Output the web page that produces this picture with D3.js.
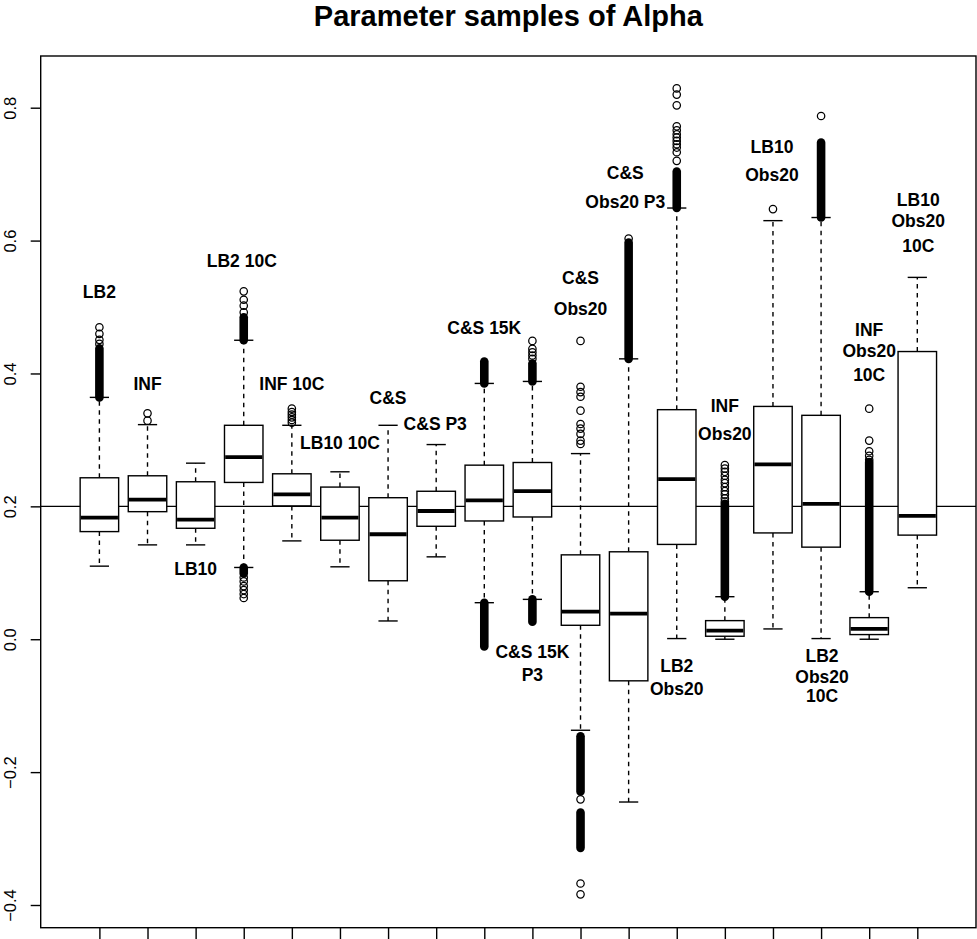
<!DOCTYPE html>
<html>
<head>
<meta charset="utf-8">
<script src="https://cdn.jsdelivr.net/npm/d3@7"></script>
<style>
  body { margin: 0; background: #fff; }
  svg { display: block; font-family: "Liberation Sans", Arial, Helvetica, sans-serif; }
</style>
</head>
<body>
<svg></svg>
<script>
/*data*/
const categories = ["LB2", "INF", "LB10", "LB2 10C", "INF 10C", "LB10 10C", "C&S", "C&S P3",
    "C&S 15K", "C&S 15K P3", "C&S Obs20", "C&S Obs20 P3", "LB2 Obs20", "INF Obs20",
    "LB10 Obs20", "LB2 Obs20 10C", "INF Obs20 10C", "LB10 Obs20 10C"];

const lowerWhisker = [0.110, 0.142, 0.142, 0.108, 0.148, 0.109, 0.0275, 0.124, 0.055, 0.060,
    -0.137, -0.245, 0.001, 0.000, 0.0155, 0.001, 0.000, 0.0775];
const q1 = [0.162, 0.192, 0.167, 0.236, 0.2007, 0.149, 0.088, 0.170, 0.178, 0.184,
    0.021, -0.0626, 0.1427, 0.0045, 0.160, 0.1386, 0.007, 0.1567];
const median = [0.183, 0.210, 0.180, 0.274, 0.218, 0.183, 0.158, 0.193, 0.209, 0.223,
    0.0415, 0.0385, 0.241, 0.013, 0.2633, 0.2037, 0.0155, 0.1857];
const q3 = [0.243, 0.246, 0.237, 0.322, 0.249, 0.229, 0.213, 0.2227, 0.262, 0.266,
    0.127, 0.1316, 0.3455, 0.028, 0.3504, 0.337, 0.0325, 0.433];
const upperWhisker = [0.364, 0.323, 0.265, 0.450, 0.322, 0.252, 0.322, 0.293, 0.385, 0.388,
    0.2794, 0.422, 0.649, 0.064, 0.630, 0.6347, 0.0715, 0.5446];

// single outlier circles
const outliers = [
    [0.4445, 0.4506, 0.4596, 0.4695],
    [0.329, 0.340],
    [],
    [0.492, 0.502, 0.511, 0.5236, 0.093, 0.087, 0.080, 0.074, 0.068, 0.062],
    [0.326, 0.330, 0.334, 0.338, 0.342, 0.347],
    [],
    [],
    [],
    [],
    [0.422, 0.427, 0.432, 0.437, 0.449],
    [0.294, 0.299, 0.309, 0.317, 0.324, 0.344, 0.365, 0.372, 0.380, 0.449, -0.241, -0.3676, -0.384],
    [0.603],
    [0.720, 0.733, 0.740, 0.745, 0.750, 0.755, 0.760, 0.766, 0.772, 0.8035, 0.8197, 0.829],
    [0.207, 0.212, 0.218, 0.223, 0.229, 0.235, 0.240, 0.246, 0.252, 0.257, 0.262],
    [0.6474],
    [0.7875],
    [0.270, 0.276, 0.283, 0.299, 0.347],
    []
];

// ranges where outliers overlap into a solid column [from, to]
const outlierBands = [
    [[0.364, 0.4377]],
    [],
    [],
    [[0.450, 0.4845], [0.099, 0.108]],
    [],
    [],
    [],
    [],
    [[0.385, 0.418], [-0.011, 0.055]],
    [[0.388, 0.415], [0.0265, 0.060]],
    [[-0.229, -0.146], [-0.314, -0.261]],
    [[0.422, 0.597]],
    [[0.649, 0.7038]],
    [[0.064, 0.204]],
    [],
    [[0.6347, 0.7474]],
    [[0.0715, 0.2668]],
    []
];

const yTicks = [-0.4, -0.2, 0.0, 0.2, 0.4, 0.6, 0.8];
const refLine = 0.2;

// text labels inside the plot (x = box number, y = baseline value of each line)
const labelLines = [["LB2"], ["INF"], ["LB10"], ["LB2 10C"], ["INF 10C"], ["LB10 10C"], ["C&S"],
    ["C&S P3"], ["C&S 15K"], ["C&S 15K", "P3"], ["C&S", "Obs20"], ["C&S", "Obs20 P3"],
    ["LB2", "Obs20"], ["INF", "Obs20"], ["LB10", "Obs20"], ["LB2", "Obs20", "10C"],
    ["INF", "Obs20", "10C"], ["LB10", "Obs20", "10C"]];
const labelX = [1, 2, 3, 3.96, 5, 6, 7, 7.98, 9, 10, 11, 11.93, 13, 14, 14.98, 16.02, 17, 18.02];
const labelY = [[0.513], [0.3745], [0.0966], [0.5597], [0.3745], [0.287], [0.3534], [0.3144],
    [0.4596], [-0.0285, -0.0622], [0.5347, 0.488], [0.6924, 0.6497], [-0.0487, -0.0837],
    [0.3418, 0.2993], [0.7324, 0.6899], [-0.0336, -0.066, -0.0952], [0.457, 0.4244, 0.388],
    [0.6523, 0.6207, 0.5822]];

/*basic setup*/
let svgWidth = 977;
let svgHeight = 939;
let plotLeft = 40.7, plotRight = 976, plotTop = 56, plotBottom = 927.7;

const svg = d3.select("svg")
    .attr("width", svgWidth)
    .attr("height", svgHeight);

// R style: boxes at 1..n, range 0.5..n+0.5 widened by 4%
let n = categories.length;
let pad = (n) * 0.04;
const x = d3.scaleLinear()
    .domain([0.5 - pad, n + 0.5 + pad])
    .range([plotLeft, plotRight]);

const y = d3.scaleLinear()
    .domain([-0.4, 0.8])
    .range([905, 107.7]);

let boxHalf = x(0.4) - x(0);
let capHalf = x(0.2) - x(0);
let lw = 1.4;

/* title */
svg.append("text")
    .attr("x", (plotLeft + plotRight) / 2)
    .attr("y", 26)
    .attr("text-anchor", "middle")
    .style("font-size", "29px")
    .style("font-weight", "bold")
    .text("Parameter samples of Alpha");

/* axes */
const yAxis = d3.axisLeft(y)
    .tickValues(yTicks)
    .tickSize(10)
    .tickSizeOuter(0)
    .tickFormat(d3.format(".1f"));

const gy = svg.append("g")
    .attr("transform", "translate(" + plotLeft + ",0)")
    .call(yAxis);
gy.select(".domain").remove();
gy.selectAll("line").attr("stroke-width", lw);
gy.selectAll("text")
    .attr("x", null).attr("dy", null)
    .attr("text-anchor", "middle")
    .attr("transform", "translate(-24.5,0) rotate(-90)")
    .style("font-size", "16.5px")
    .attr("fill", "#000");

const xAxis = d3.axisBottom(x)
    .tickValues(d3.range(1, n + 1))
    .tickSize(12)
    .tickSizeOuter(0)
    .tickFormat("");

const gx = svg.append("g")
    .attr("transform", "translate(0," + plotBottom + ")")
    .call(xAxis);
gx.select(".domain").remove();
gx.selectAll("line").attr("stroke-width", lw);

/* frame */
svg.append("rect")
    .attr("x", plotLeft)
    .attr("y", plotTop)
    .attr("width", plotRight - plotLeft)
    .attr("height", plotBottom - plotTop)
    .attr("fill", "none")
    .attr("stroke", "#000")
    .attr("stroke-width", lw);

/* reference line */
svg.append("line")
    .attr("x1", plotLeft).attr("x2", plotRight)
    .attr("y1", y(refLine)).attr("y2", y(refLine))
    .attr("stroke", "#000")
    .attr("stroke-width", lw);

/* boxes */
let boxes = svg.selectAll("g.box")
    .data(categories)
    .enter()
    .append("g")
    .attr("class", "box");

// whiskers (dashed)
boxes.append("line")
    .attr("x1", (d, i) => x(i + 1)).attr("x2", (d, i) => x(i + 1))
    .attr("y1", (d, i) => y(q3[i])).attr("y2", (d, i) => y(upperWhisker[i]))
    .attr("stroke", "#000").attr("stroke-width", lw)
    .attr("stroke-dasharray", "4.5,4.5");
boxes.append("line")
    .attr("x1", (d, i) => x(i + 1)).attr("x2", (d, i) => x(i + 1))
    .attr("y1", (d, i) => y(q1[i])).attr("y2", (d, i) => y(lowerWhisker[i]))
    .attr("stroke", "#000").attr("stroke-width", lw)
    .attr("stroke-dasharray", "4.5,4.5");

// staples
boxes.append("line")
    .attr("x1", (d, i) => x(i + 1) - capHalf).attr("x2", (d, i) => x(i + 1) + capHalf)
    .attr("y1", (d, i) => y(upperWhisker[i])).attr("y2", (d, i) => y(upperWhisker[i]))
    .attr("stroke", "#000").attr("stroke-width", lw);
boxes.append("line")
    .attr("x1", (d, i) => x(i + 1) - capHalf).attr("x2", (d, i) => x(i + 1) + capHalf)
    .attr("y1", (d, i) => y(lowerWhisker[i])).attr("y2", (d, i) => y(lowerWhisker[i]))
    .attr("stroke", "#000").attr("stroke-width", lw);

// box
boxes.append("rect")
    .attr("x", (d, i) => x(i + 1) - boxHalf)
    .attr("y", (d, i) => y(q3[i]))
    .attr("width", boxHalf * 2)
    .attr("height", (d, i) => y(q1[i]) - y(q3[i]))
    .attr("fill", "#fff")
    .attr("stroke", "#000").attr("stroke-width", lw);

// median
boxes.append("line")
    .attr("x1", (d, i) => x(i + 1) - boxHalf + 0.7).attr("x2", (d, i) => x(i + 1) + boxHalf - 0.7)
    .attr("y1", (d, i) => y(median[i])).attr("y2", (d, i) => y(median[i]))
    .attr("stroke", "#000").attr("stroke-width", 3.8);

/* outliers */
let r = 3.7;
boxes.each(function (d, i) {
    let g = d3.select(this);
    g.selectAll("rect.band")
        .data(outlierBands[i])
        .enter()
        .append("rect")
        .attr("class", "band")
        .attr("x", x(i + 1) - r - 0.6)
        .attr("y", b => y(b[1]) - r - 0.6)
        .attr("width", 2 * r + 1.2)
        .attr("height", b => y(b[0]) - y(b[1]) + 2 * r + 1.2)
        .attr("rx", r + 0.6)
        .attr("fill", "#000");
    g.selectAll("circle")
        .data(outliers[i])
        .enter()
        .append("circle")
        .attr("cx", x(i + 1))
        .attr("cy", v => y(v))
        .attr("r", r)
        .attr("fill", "none")
        .attr("stroke", "#000")
        .attr("stroke-width", 1.25);
});

/* labels */
labelLines.forEach(function (lines, i) {
    svg.append("g")
        .selectAll("text")
        .data(lines)
        .enter()
        .append("text")
        .attr("x", x(labelX[i]))
        .attr("y", (t, k) => y(labelY[i][k]))
        .attr("text-anchor", "middle")
        .style("font-size", "17.5px")
        .style("font-weight", "bold")
        .text(t => t);
});
</script>
</body>
</html>
